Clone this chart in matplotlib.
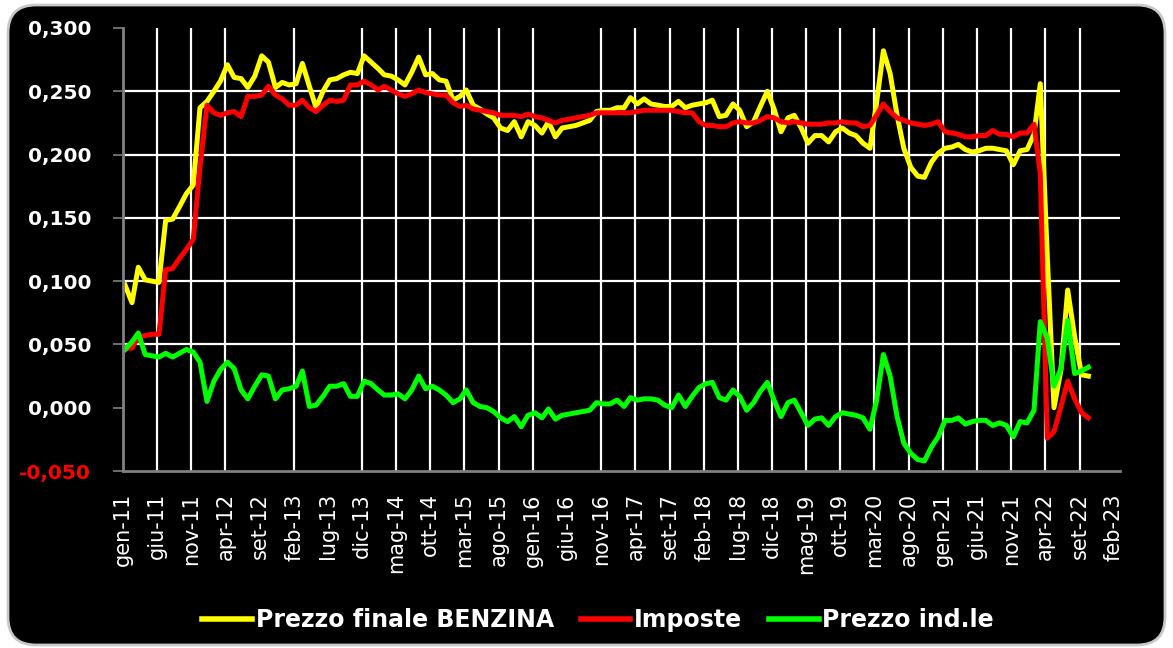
import numpy as np
import pandas as pd
import matplotlib
matplotlib.use('Agg')
import matplotlib.pyplot as plt
import matplotlib.patches as mpatches
import matplotlib.transforms as mtransforms

# monthly values, gen-11 .. ott-22
prezzo_finale = [
    0.097, 0.083, 0.111, 0.101, 0.100, 0.099, 0.148, 0.149, 0.159, 0.169,
    0.176, 0.237, 0.242, 0.250, 0.258, 0.271, 0.261, 0.260, 0.253, 0.262,
    0.278, 0.273, 0.253, 0.257, 0.255, 0.256, 0.272, 0.254, 0.237, 0.250,
    0.259, 0.260, 0.263, 0.265, 0.264, 0.278, 0.273, 0.268, 0.263, 0.262,
    0.259, 0.255, 0.265, 0.277, 0.263, 0.264, 0.259, 0.258, 0.243, 0.246,
    0.251, 0.239, 0.236, 0.232, 0.229, 0.221, 0.219, 0.226, 0.214, 0.226,
    0.223, 0.217, 0.226, 0.214, 0.221, 0.222, 0.223, 0.225, 0.227, 0.234,
    0.235, 0.235, 0.237, 0.237, 0.245, 0.240, 0.244, 0.240, 0.239, 0.238,
    0.238, 0.242, 0.237, 0.239, 0.240, 0.241, 0.243, 0.230, 0.231, 0.240,
    0.235, 0.222, 0.226, 0.238, 0.250, 0.236, 0.218, 0.229, 0.231, 0.221,
    0.209, 0.215, 0.215, 0.210, 0.218, 0.221, 0.217, 0.215, 0.209, 0.205,
    0.240, 0.282, 0.264, 0.231, 0.205, 0.190, 0.183, 0.182, 0.194, 0.201,
    0.205, 0.206, 0.208, 0.204, 0.202, 0.203, 0.205, 0.205, 0.204, 0.203,
    0.192, 0.203, 0.204, 0.216, 0.256, 0.120, 0.000, 0.030, 0.093, 0.056,
    0.026, 0.025]

imposte = [
    0.047, 0.047, 0.056, 0.057, 0.058, 0.058, 0.109, 0.110, 0.118, 0.125,
    0.133, 0.190, 0.239, 0.233, 0.231, 0.233, 0.234, 0.230, 0.246, 0.246,
    0.247, 0.254, 0.247, 0.244, 0.239, 0.239, 0.243, 0.237, 0.234, 0.239,
    0.243, 0.242, 0.243, 0.255, 0.255, 0.258, 0.255, 0.251, 0.254, 0.251,
    0.248, 0.246, 0.248, 0.251, 0.249, 0.248, 0.247, 0.247, 0.241, 0.238,
    0.239, 0.236, 0.235, 0.234, 0.233, 0.231, 0.231, 0.231, 0.230, 0.232,
    0.230, 0.229, 0.227, 0.225, 0.227, 0.228, 0.229, 0.230, 0.231, 0.233,
    0.233, 0.233, 0.233, 0.233, 0.233, 0.234, 0.235, 0.235, 0.235, 0.235,
    0.235, 0.234, 0.233, 0.233, 0.226, 0.223, 0.223, 0.222, 0.222, 0.225,
    0.226, 0.225, 0.225, 0.227, 0.230, 0.229, 0.226, 0.225, 0.226, 0.225,
    0.224, 0.224, 0.224, 0.225, 0.225, 0.226, 0.225, 0.225, 0.222, 0.223,
    0.231, 0.240, 0.234, 0.229, 0.227, 0.225, 0.224, 0.223, 0.224, 0.226,
    0.218, 0.217, 0.216, 0.214, 0.214, 0.215, 0.215, 0.219, 0.216, 0.216,
    0.214, 0.217, 0.217, 0.224, 0.185, -0.024, -0.019, 0.001, 0.021, 0.007,
    -0.004, -0.008]

prezzo_industriale = [
    0.046, 0.052, 0.059, 0.042, 0.041, 0.040, 0.043, 0.040, 0.043, 0.046,
    0.044, 0.036, 0.005, 0.021, 0.030, 0.036, 0.031, 0.014, 0.007, 0.017,
    0.026, 0.025, 0.007, 0.014, 0.015, 0.017, 0.029, 0.001, 0.002, 0.009,
    0.017, 0.017, 0.019, 0.009, 0.009, 0.021, 0.019, 0.014, 0.010, 0.010,
    0.011, 0.007, 0.014, 0.025, 0.015, 0.017, 0.014, 0.010, 0.004, 0.007,
    0.014, 0.004, 0.001, 0.000, -0.003, -0.008, -0.011, -0.007, -0.015, -0.006,
    -0.004, -0.008, -0.001, -0.009, -0.006, -0.005, -0.004, -0.003, -0.002, 0.004,
    0.003, 0.003, 0.006, 0.001, 0.008, 0.006, 0.007, 0.007, 0.006, 0.002,
    0.000, 0.010, 0.001, 0.009, 0.016, 0.019, 0.020, 0.008, 0.006, 0.014,
    0.009, -0.002, 0.004, 0.013, 0.020, 0.006, -0.007, 0.004, 0.006, -0.004,
    -0.014, -0.009, -0.008, -0.014, -0.007, -0.004, -0.005, -0.006, -0.008, -0.017,
    0.005, 0.042, 0.025, -0.007, -0.028, -0.036, -0.041, -0.042, -0.031, -0.023,
    -0.010, -0.010, -0.008, -0.013, -0.011, -0.010, -0.010, -0.014, -0.012, -0.014,
    -0.023, -0.011, -0.012, -0.002, 0.068, 0.055, 0.017, 0.031, 0.069, 0.027,
    0.029, 0.032]

mesi = ['gen', 'feb', 'mar', 'apr', 'mag', 'giu', 'lug', 'ago', 'set', 'ott', 'nov', 'dic']
y_ticks = [-0.05, 0.0, 0.05, 0.10, 0.15, 0.20, 0.25, 0.30]
y_grid = [0.05, 0.10, 0.15, 0.20, 0.25]

date = pd.date_range('2011-01-01', periods=len(prezzo_finale), freq='MS') + pd.Timedelta(days=9)
tick_date = pd.date_range('2011-01-01', '2023-02-01', freq='5MS')
tick_labels = [mesi[d.month - 1] + '-' + d.strftime('%y') for d in tick_date]
# excel left out some tick marks / gridlines
senza_griglia = ['gen-11', 'set-12', 'lug-13', 'giu-16', 'feb-23']
griglia_date = [d for d, l in zip(tick_date, tick_labels) if l not in senza_griglia]

fig = plt.figure(figsize=(11.73, 6.48), dpi=100)
fig.patch.set_facecolor('white')

# black rounded background
box = mpatches.FancyBboxPatch((8, 3), 1157, 640, boxstyle='round,pad=0,rounding_size=28',
                              transform=mtransforms.IdentityTransform(),
                              facecolor='black', edgecolor='#c8c8c8', linewidth=2, zorder=-10)
fig.patches.append(box)

ax = fig.add_axes([123/1173, 177/648, 997/1173, 443/648])
ax.set_zorder(2)
ax.set_facecolor('black')

x0, x1 = pd.Timestamp('2011-01-01'), pd.Timestamp('2023-02-28')

# gridlines
ax.hlines(y_grid, x0, x1, colors='white', lw=1.6, zorder=2)
ax.vlines(griglia_date, -0.05, 0.30, colors='white', lw=1.6, zorder=2)

ax.plot(date, prezzo_finale, color='#ffff00', lw=3.6, label='Prezzo finale BENZINA', zorder=3)
ax.plot(date, imposte, color='#ff0000', lw=3.6, label='Imposte', zorder=4)
ax.plot(date, prezzo_industriale, color='#00ff00', lw=3.6, label='Prezzo ind.le', zorder=5)

ax.set_ylim(-0.05, 0.30)
ax.set_xlim(x0, x1)

ax.set_yticks(y_ticks)
ax.set_yticklabels([('%.3f' % v).replace('.', ',') for v in y_ticks],
                   fontsize=14.5, fontweight='bold', color='white')
ax.get_yticklabels()[0].set_color('#ff0000')
ax.tick_params(axis='y', which='major', length=7, width=1.2, color='#808080', pad=16)

ax.set_xticks(tick_date)
ax.set_xticklabels(tick_labels, rotation=90, fontsize=15, color='white')
ax.tick_params(axis='x', which='major', length=0, pad=16)
ax.set_xticks(griglia_date, minor=True)
ax.tick_params(axis='x', which='minor', length=7, width=1.2, color='#808080')

for s in ['top', 'right']:
    ax.spines[s].set_visible(False)
for s in ['left', 'bottom']:
    ax.spines[s].set_color('#808080')
    ax.spines[s].set_linewidth(2)
    ax.spines[s].set_zorder(6)

leg = fig.legend(loc='center', bbox_to_anchor=(0.51, 0.043), ncol=3, frameon=False,
                 handlelength=2.1, handletextpad=0.15, columnspacing=1.15,
                 prop={'weight': 'bold', 'size': 17})
for t in leg.get_texts():
    t.set_color('white')
for h in leg.get_lines():
    h.set_linewidth(4)

fig.savefig('out.png', dpi=100, facecolor=fig.get_facecolor())
